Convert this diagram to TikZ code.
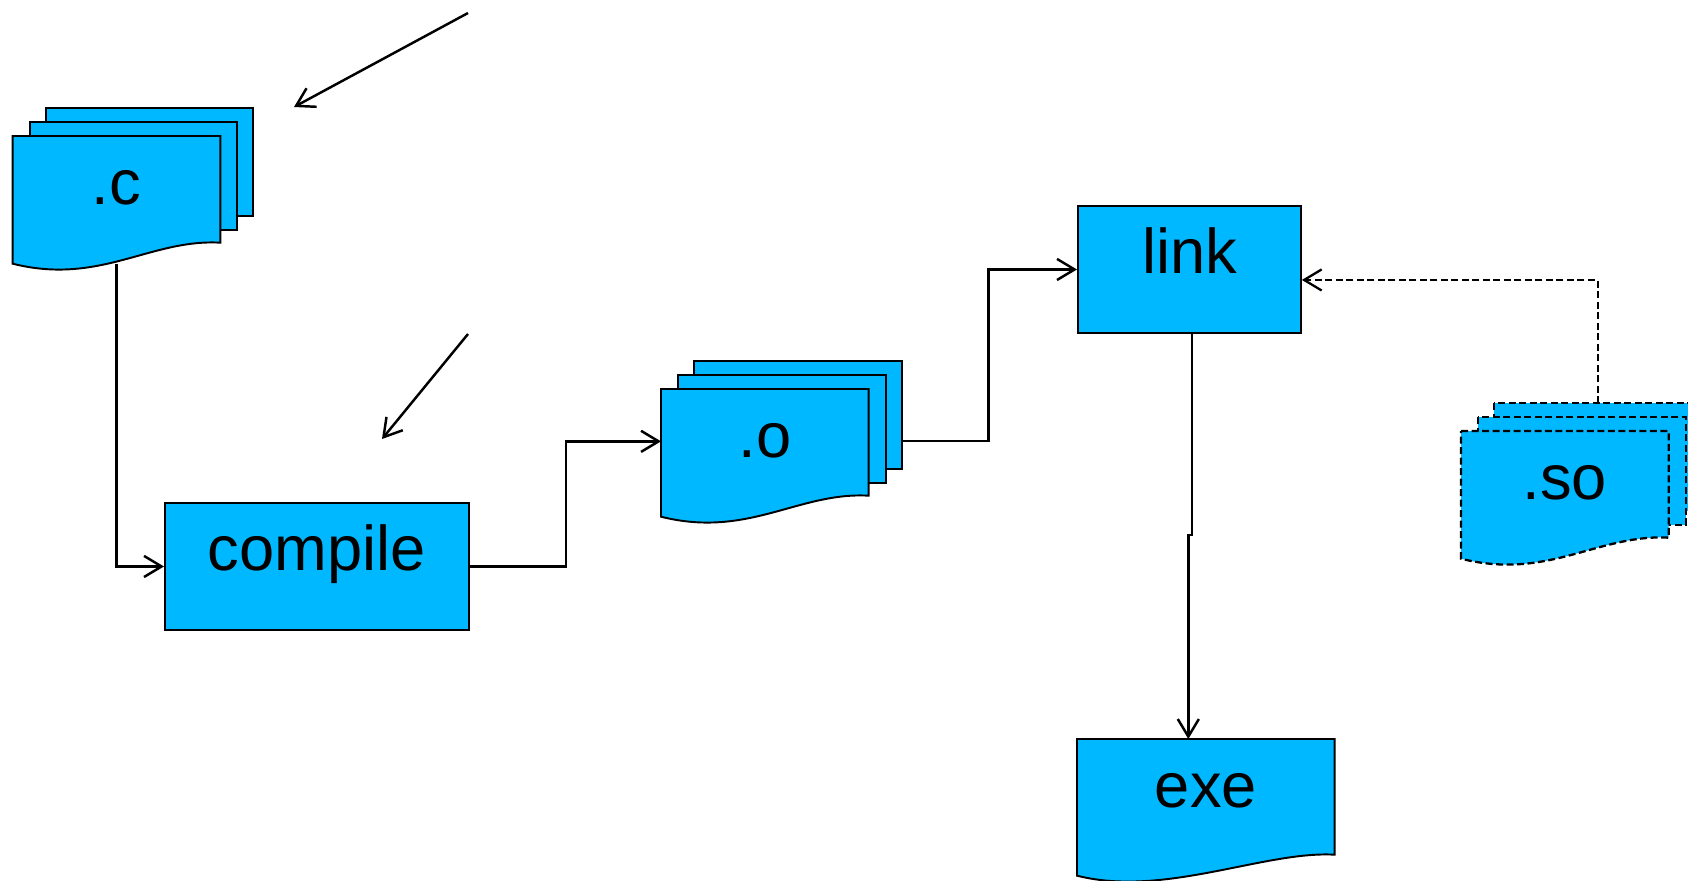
\documentclass[tikz,border=0pt]{standalone}
\usepackage{fontspec}
\usepackage{tikz}
\usetikzlibrary{arrows, arrows.meta, positioning, calc}
\newfontfamily\flowfont{Liberation Sans}
\definecolor{flow_cyan}{HTML}{00B8FF}
\colorlet{flowblue}{flow_cyan}
\tikzset{
  process/.style={rectangle,draw=black,fill=flowblue,line width=1.1pt,inner sep=0pt,text height=1.36cm,text depth=1.18cm,font=\flowfont\fontsize{36}{40}\selectfont},
  doc/.style={rectangle,inner sep=0pt,minimum width=4.14cm,text height=1.36cm,text depth=1.18cm,font=\flowfont\fontsize{36}{40}\selectfont},
  page/.style={rectangle,inner sep=0pt,minimum width=4.14cm,minimum height=2.14cm},
  sheet/.style={draw=black,fill=flowblue,line width=1.1pt},
  optional/.style={line width=1.3pt,dash pattern=on 0.14cm off 0.07cm},
  flow/.style={line width=1.4pt,-{Straight Barb[length=10pt,width=12pt]}},
}
\pgfdeclarelayer{back}
\pgfsetlayers{back,main}
\newcommand{\docoutline}[2][]{%
  \draw[sheet,#1] (#2.north west) -- (#2.north east) -- ([yshift=0.42cm]#2.south east)
    .. controls ([xshift=-1.4cm,yshift=0.5cm]#2.south east) and ([xshift=1.74cm,yshift=-0.44cm]#2.south west) .. (#2.south west) -- cycle;}

\begin{document}
\begin{tikzpicture}[x=0.02cm,y=-0.02cm]
	    \useasboundingbox (0,0) rectangle (1688,880);
	    % files and steps
	    \node[doc,anchor=north west] (c) at (12.7,136) {.c};
	    \node[page,anchor=north west] (c-2) at ([shift={(0.34cm,0.28cm)}]c.north west) {};
	    \node[page,anchor=north west] (c-3) at ([shift={(0.66cm,0.56cm)}]c.north west) {};
	    \node[process,minimum width=6.08cm,anchor=north west] (compile) at (164,502) {compile};
	    \node[doc,anchor=north west] (o) at (661,389) {.o};
	    \node[page,anchor=north west] (o-2) at ([shift={(0.34cm,0.28cm)}]o.north west) {};
	    \node[page,anchor=north west] (o-3) at ([shift={(0.66cm,0.56cm)}]o.north west) {};
	    \node[process,minimum width=4.46cm,anchor=north west] (link) at (1077,205) {link};
	    \node[doc,minimum width=5.14cm,text depth=1.36cm,anchor=north west] (exe) at (1077,739) {exe};
	    \node[doc,anchor=north west] (so) at (1461,431) {.so};
	    \node[page,anchor=north west] (so-2) at ([shift={(0.34cm,0.28cm)}]so.north west) {};
	    \node[page,anchor=north west] (so-3) at ([shift={(0.66cm,0.56cm)}]so.north west) {};
	    \begin{pgfonlayer}{back}
	        \foreach \f in {c,o} {
	            \draw[sheet] (\f-3.north west) rectangle (\f-3.south east);
	            \draw[sheet] (\f-2.north west) rectangle (\f-2.south east);
	            \docoutline{\f}
	        }
	        \draw[sheet,optional] (so-3.north west) rectangle (so-3.south east);
	        \draw[sheet,optional] (so-2.north west) rectangle (so-2.south east);
	        \docoutline[optional]{so}
	        \docoutline{exe}
	    \end{pgfonlayer}
	    % connectors
	    \draw[flow] (c.south) |- (compile.west);
	    \draw[flow] (compile.east) -- ++(96,0) |- ([yshift=0.23cm]o.west);
	    \draw[flow] ([yshift=-0.52cm]o-3.east) -- ++(87,0) |- (link.west);
	    \draw[flow] ([xshift=0.05cm]link.south) -- ++(0,201) -| ([xshift=-0.35cm]exe.north);
	    \draw[flow,optional] (so-3.north) |- ([yshift=-0.21cm]link.east);
	    % pointers
	    \coordinate (cnote) at (468,13);
	    \coordinate (cnote-tip) at (294,107);
	    \coordinate (compnote) at (468,334);
	    \coordinate (compnote-tip) at (382,439);
	    \draw[flow] (cnote) -- (cnote-tip);
	    \draw[flow] (compnote) -- (compnote-tip);
	\end{tikzpicture}
\end{document}
